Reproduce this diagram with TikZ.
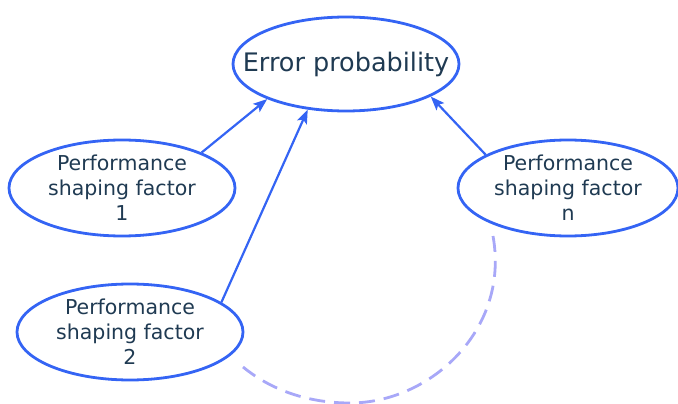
\documentclass[tikz,border=0pt]{standalone}
\usepackage{fontspec}
\setmainfont{DejaVu Sans}
\usetikzlibrary{shapes.geometric,arrows.meta}
\definecolor{edgeblue}{HTML}{3464F4}
\definecolor{txt}{HTML}{1F3A52}
\definecolor{lav}{HTML}{A8A8F8}
\tikzset{
  oval/.style={ellipse, draw=edgeblue, line width=2.8pt, inner xsep=-25pt, inner ysep=-12pt, text=txt, align=center},
  psf/.style={oval, minimum width=226pt, minimum height=96pt, font=\fontsize{20.5}{25}\selectfont},
  conn/.style={draw=edgeblue, line width=2.2pt, arrows={-Stealth[length=14pt,width=10.5pt,inset=3pt]}},
  dashconn/.style={draw=lav, line width=2.8pt, dash pattern=on 16pt off 9pt}
}
\begin{document}
\begin{tikzpicture}[x=1pt,y=-1pt]
\useasboundingbox (0,0) rectangle (678,404);
\node[oval, minimum width=226pt, minimum height=94pt, font=\fontsize{25.5}{30}\selectfont] (top) at (346,64) {Error probability};
\node[psf] (p1) at (122,188) {Performance\\shaping factor\\1};
\node[psf] (p2) at (130,332) {Performance\\shaping factor\\2};
\node[psf, minimum width=220pt] (pn) at (568,188) {Performance\\shaping factor\\n};
\draw[conn] (p1.24) -- (top.204);
\draw[conn] (p2.18) -- (top.230);
\draw[conn] (pn.158) -- (top.339);
\coordinate (ds) at (493,236);
\coordinate (de) at (243,367);
\draw[dashconn] (ds) .. controls (510,330) and (430,403) .. (350,403) .. controls (300,403) and (265,385) .. (de);
\end{tikzpicture}
\end{document}
